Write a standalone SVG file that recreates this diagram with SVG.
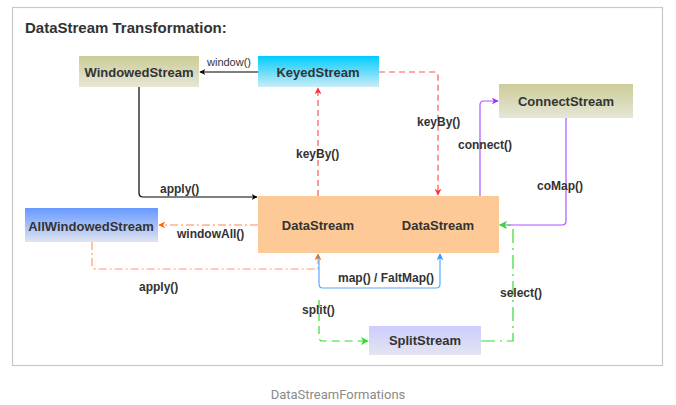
<svg xmlns="http://www.w3.org/2000/svg" width="676" height="405" viewBox="0 0 676 405">
<defs>
<linearGradient id="gOlive" x1="0" y1="0" x2="0" y2="1"><stop offset="0" stop-color="#cccc99"/><stop offset="1" stop-color="#e6e6d6"/></linearGradient>
<linearGradient id="gCyan" x1="0" y1="0" x2="0" y2="1"><stop offset="0" stop-color="#00ccff"/><stop offset="1" stop-color="#ccecf6"/></linearGradient>
<linearGradient id="gBlue" x1="0" y1="0" x2="0" y2="1"><stop offset="0" stop-color="#6699ff"/><stop offset="1" stop-color="#e0e4f0"/></linearGradient>
<linearGradient id="gLav" x1="0" y1="0" x2="0" y2="1"><stop offset="0" stop-color="#ccccff"/><stop offset="1" stop-color="#e4e4f0"/></linearGradient>
<marker id="aBlack" viewBox="0 0 10 10" refX="9" refY="5" markerWidth="6" markerHeight="6" orient="auto" markerUnits="userSpaceOnUse"><path d="M0,0 L10,5 L0,10 L3,5 Z" fill="#000"/></marker>
<marker id="aRed" viewBox="0 0 10 10" refX="9" refY="5" markerWidth="7" markerHeight="7" orient="auto" markerUnits="userSpaceOnUse"><path d="M0,0 L10,5 L0,10 L3,5 Z" fill="#ff3333"/></marker>
<marker id="aPurple" viewBox="0 0 10 10" refX="9" refY="5" markerWidth="7" markerHeight="7" orient="auto" markerUnits="userSpaceOnUse"><path d="M0,0 L10,5 L0,10 L3,5 Z" fill="#9933ff"/></marker>
<marker id="aOrange" viewBox="0 0 10 10" refX="9" refY="5" markerWidth="7" markerHeight="7" orient="auto" markerUnits="userSpaceOnUse"><path d="M0,0 L10,5 L0,10 L3,5 Z" fill="#ff6600"/></marker>
<marker id="aBlue" viewBox="0 0 10 10" refX="9" refY="5" markerWidth="7" markerHeight="7" orient="auto" markerUnits="userSpaceOnUse"><path d="M0,0 L10,5 L0,10 L3,5 Z" fill="#3399ff"/></marker>
<marker id="aGreen" viewBox="0 0 10 10" refX="9" refY="5" markerWidth="8" markerHeight="8" orient="auto" markerUnits="userSpaceOnUse"><path d="M0,0 L10,5 L0,10 L3,5 Z" fill="#33dd33"/></marker>
</defs>
<style>
text{font-family:"Liberation Sans",Arial,sans-serif;fill:#333}
.node{font-size:13px;font-weight:bold;text-anchor:middle}
.lbl{font-size:12px;font-weight:bold}
.c{fill:none;stroke-width:1.2;stroke-linejoin:round}
</style>
<rect x="0" y="0" width="676" height="405" fill="#fff"/>
<rect x="12.5" y="7.5" width="650" height="358" fill="#fff" stroke="#c8c8c8" stroke-width="1.2"/>
<text x="25" y="33" style="font-size:15px;font-weight:bold">DataStream Transformation:</text>

<g id="connectors">
<path class="c" d="M258,72 H200" stroke="#000" marker-end="url(#aBlack)"/>
<path class="c" d="M139,87 V193 Q139,197 143,197 H257" stroke="#000" marker-end="url(#aBlack)"/>
<path class="c" d="M318,196 V88" stroke="#ff5555" stroke-dasharray="6,4" marker-end="url(#aRed)"/>
<path class="c" d="M379,72 H434 Q438,72 438,76 V195" stroke="#ff5555" stroke-dasharray="6,4" marker-end="url(#aRed)"/>
<path class="c" d="M480,196 V105 Q480,101 484,101 H498" stroke="#aa55ff" marker-end="url(#aPurple)"/>
<path class="c" d="M566,118 V221 Q566,225 562,225 H500" stroke="#aa55ff" marker-end="url(#aPurple)"/>
<path class="c" d="M258,225 H159" stroke="#ff8855" stroke-dasharray="8,3,2,3" marker-end="url(#aOrange)"/>
<path class="c" d="M92,242 V265 Q92,269 96,269 H318 V254" stroke="#ff9966" stroke-dasharray="8,3,2,3" marker-end="url(#aOrange)"/>
<path class="c" d="M319,256 V284 Q319,288 323,288 H436 Q440,288 440,284 V254" stroke="#55aaff" marker-end="url(#aBlue)"/>
<path class="c" d="M319,300 V337 Q319,341 323,341 H368" stroke="#33dd33" stroke-dasharray="8,5" stroke-width="1.4" marker-end="url(#aGreen)"/>
<path class="c" d="M481,341 H513 V229 Q513,225 509,225 H500" stroke="#33dd33" stroke-dasharray="14,5,2,5" stroke-width="1.4" marker-end="url(#aGreen)"/>
<text x="207" y="66" style="font-size:11px">window()</text>
<text x="160" y="193" class="lbl">apply()</text>
<text x="296" y="158" class="lbl">keyBy()</text>
<text x="417" y="126" class="lbl">keyBy()</text>
<text x="458" y="149" class="lbl">connect()</text>
<text x="537" y="190" class="lbl">coMap()</text>
<text x="177" y="238" class="lbl">windowAll()</text>
<text x="139" y="291" class="lbl">apply()</text>
<text x="338" y="282" class="lbl">map() / FaltMap()</text>
<text x="302" y="314" class="lbl">split()</text>
<text x="500" y="297" class="lbl">select()</text>
</g>

<g id="WindowedStream"><rect x="79" y="56" width="120" height="31" fill="url(#gOlive)"/><text x="139" y="77" class="node">WindowedStream</text></g>
<g id="KeyedStream"><rect x="258" y="56" width="121" height="31" fill="url(#gCyan)"/><text x="318" y="77" class="node">KeyedStream</text></g>
<g id="ConnectStream"><rect x="499" y="84" width="134" height="34" fill="url(#gOlive)"/><text x="566" y="106" class="node">ConnectStream</text></g>
<g id="DataStream"><rect x="258" y="196" width="241" height="57" fill="#fdc996"/><text x="318" y="230" class="node">DataStream</text><text x="438" y="230" class="node">DataStream</text></g>
<g id="AllWindowedStream"><rect x="25" y="208" width="133" height="34" fill="url(#gBlue)"/><text x="91" y="231" class="node">AllWindowedStream</text></g>
<g id="SplitStream"><rect x="369" y="326" width="112" height="29" fill="url(#gLav)"/><text x="425" y="345" class="node">SplitStream</text></g>

<text x="338" y="399" style="font-size:13px;fill:#8a8a8a;text-anchor:middle;font-family:Roboto,'Liberation Sans',sans-serif">DataStreamFormations</text>
</svg>
